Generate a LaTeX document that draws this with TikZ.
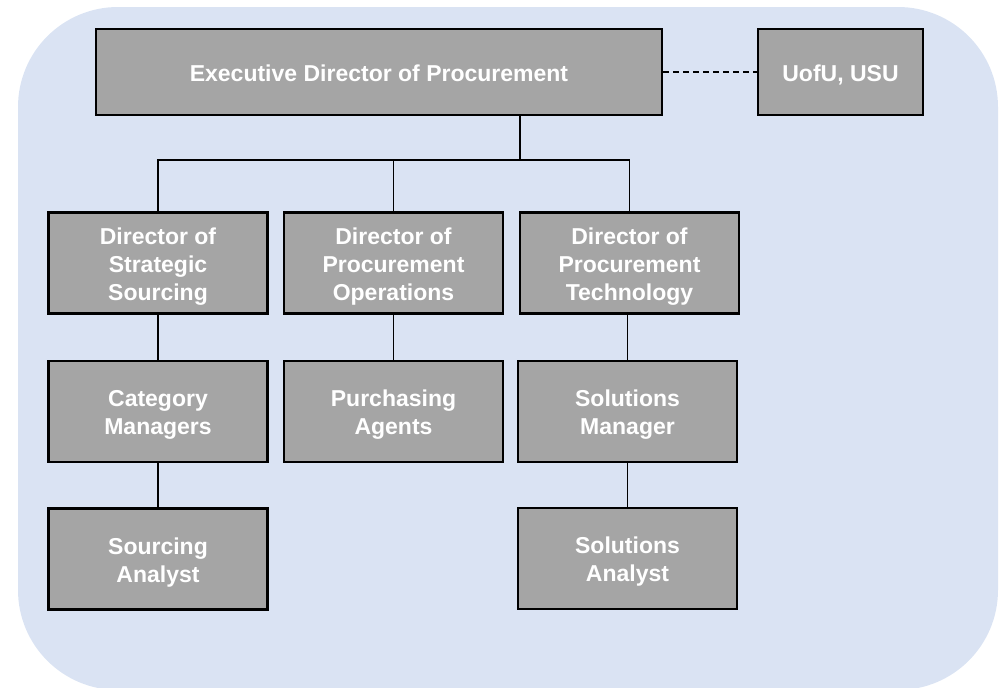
\documentclass[tikz,border=0pt]{standalone}
\usepackage{fontspec}
\setmainfont{Liberation Sans}
\definecolor{bgblue}{HTML}{DAE3F3}
\definecolor{boxgray}{HTML}{A5A5A5}
\newcommand{\boxtext}[1]{\raisebox{-3.5pt}[\height][\depth]{\begin{tabular}{@{}c@{}}#1\end{tabular}}}
\tikzset{
  orgbox/.style={draw=black, line width=2.6pt, fill=boxgray, text=white,
    font=\bfseries\fontsize{23}{28}\selectfont, align=center, inner sep=0pt,
    minimum height=101pt},
  wbox/.style={orgbox, minimum width=219pt},
  conn/.style={line width=1.3pt, draw=black},
}
\begin{document}
\begin{tikzpicture}[x=1pt,y=-1pt]
\useasboundingbox (0,0) rectangle (1005,688);
\fill[bgblue, rounded corners=100pt] (18,7) rectangle (998,690);
\node[orgbox, minimum width=566pt, minimum height=86pt] (exec) at (379,72) {\boxtext{Executive Director of Procurement}};
\node[orgbox, minimum width=165pt, minimum height=86pt] (uofu) at (840.5,72) {\boxtext{UofU, USU}};
\node[wbox] (dss) at (158,263) {\boxtext{Director of\\Strategic\\Sourcing}};
\node[wbox] (dpo) at (393.5,263) {\boxtext{Director of\\Procurement\\Operations}};
\node[wbox] (dpt) at (629.5,263) {\boxtext{Director of\\Procurement\\Technology}};
\node[wbox] (cm) at (158,411.5) {\boxtext{Category\\Managers}};
\node[wbox] (pa) at (393.5,411.5) {\boxtext{Purchasing\\Agents}};
\node[wbox] (sm) at (627.5,411.5) {\boxtext{Solutions\\Manager}};
\node[wbox] (sa) at (158,559) {\boxtext{Sourcing\\Analyst}};
\node[wbox] (sla) at (627.5,558.5) {\boxtext{Solutions\\Analyst}};
\coordinate (j) at (520,160);
\draw[conn, dash pattern=on 6pt off 4pt] (exec.east) -- (uofu.west);
\draw[conn] (exec.south -| j) -- (j);
\draw[conn] (dss.north) |- (dpt.north |- j) -- (dpt.north);
\draw[conn] (dpo.north) -- (dpo.north |- j);
\draw[conn] (dss.south) -- (cm.north);
\draw[conn] (dpo.south) -- (pa.north);
\draw[conn] (sm.north) -- (sm.north |- dpt.south);
\draw[conn] (cm.south) -- (sa.north);
\draw[conn] (sm.south) -- (sla.north);
\end{tikzpicture}
\end{document}
